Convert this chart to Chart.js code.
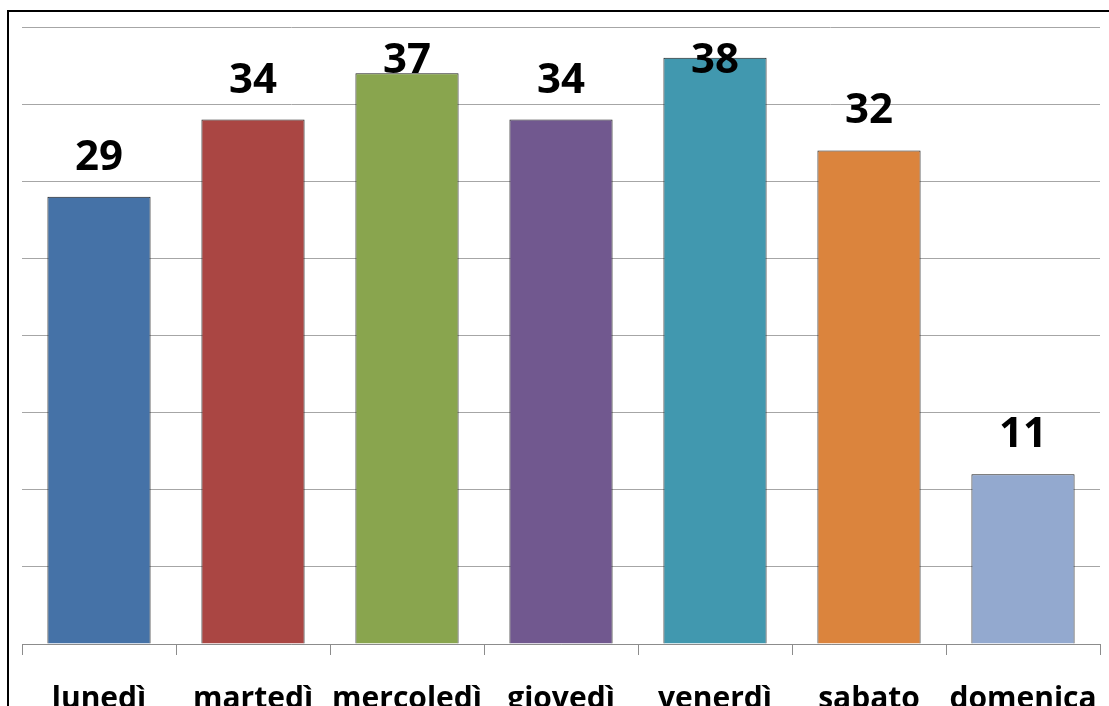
<!DOCTYPE html>
<html>
<head>
<meta charset="utf-8">
<script src="https://cdn.jsdelivr.net/npm/chart.js@4.4.1/dist/chart.umd.min.js"></script>
<style>
  html, body { margin: 0; padding: 0; background: #fff; overflow: hidden; }
  #clip { width: 1109px; height: 706px; overflow: hidden; position: relative; }
  #wrap { width: 1109px; height: 743px; position: relative; }
</style>
</head>
<body>
<div id="clip"><div id="wrap"><canvas id="chart-giorni"></canvas></div></div>
<script>
  var GIORNI = ['lunedì', 'martedì', 'mercoledì', 'giovedì', 'venerdì', 'sabato', 'domenica'];
  var VALORI = [29, 34, 37, 34, 38, 32, 11];
  var COLORI = ['#4572A7', '#AA4643', '#89A54E', '#71588F', '#4198AF', '#DB843D', '#93A9CF'];

  // cornice esterna (solo lati sinistro e superiore visibili)
  var cornice = {
    id: 'cornice',
    beforeDraw: function (chart) {
      var c = chart.ctx;
      c.save();
      c.strokeStyle = '#000';
      c.lineWidth = 2;
      c.beginPath();
      c.moveTo(8, chart.height + 2);
      c.lineTo(8, 11);
      c.lineTo(chart.width + 2, 11);
      c.stroke();
      c.restore();
    }
  };

  // etichette dei valori sopra le barre, tenute dentro l'area del grafico
  var etichette = {
    id: 'etichette',
    afterDatasetsDraw: function (chart) {
      var c = chart.ctx;
      var meta = chart.getDatasetMeta(0);
      var area = chart.chartArea;
      c.save();
      c.font = 'bold 42px "Open Sans"';
      c.fillStyle = '#000';
      c.textAlign = 'center';
      c.textBaseline = 'alphabetic';
      meta.data.forEach(function (bar, i) {
        var y = Math.max(bar.y - 27, area.top + 46);
        c.fillText(String(VALORI[i]), bar.x, y);
      });
      c.restore();
    }
  };

  new Chart(document.getElementById('chart-giorni'), {
    type: 'bar',
    data: {
      labels: GIORNI,
      datasets: [
        {
          data: VALORI,
          backgroundColor: COLORI,
          borderColor: '#1e1e1e',
          borderWidth: 1,
          borderSkipped: 'bottom',
          barPercentage: 0.67,
          categoryPercentage: 1
        }
      ]
    },
    options: {
      responsive: true,
      maintainAspectRatio: false,
      animation: false,
      layout: { padding: { left: 22, right: 9, top: 27, bottom: 0 } },
      plugins: { legend: { display: false }, tooltip: { enabled: false } },
      scales: {
        x: {
          grid: {
            offset: true,
            drawOnChartArea: false,
            drawTicks: true,
            tickLength: 11,
            color: '#8c8c8c'
          },
          border: { display: true, color: '#8c8c8c' },
          ticks: {
            padding: 26,
            color: '#000',
            font: { family: '"Open Sans"', size: 30, weight: 'bold' },
            maxRotation: 0,
            autoSkip: false
          },
          afterFit: function (scale) {
            scale.paddingLeft = 0;
            scale.paddingRight = 0;
          }
        },
        y: {
          min: 0,
          max: 40,
          ticks: { display: false, stepSize: 5 },
          grid: { color: '#a6a6a6', drawTicks: false },
          border: { display: false }
        }
      }
    },
    plugins: [cornice, etichette]
  });
</script>
</body>
</html>
